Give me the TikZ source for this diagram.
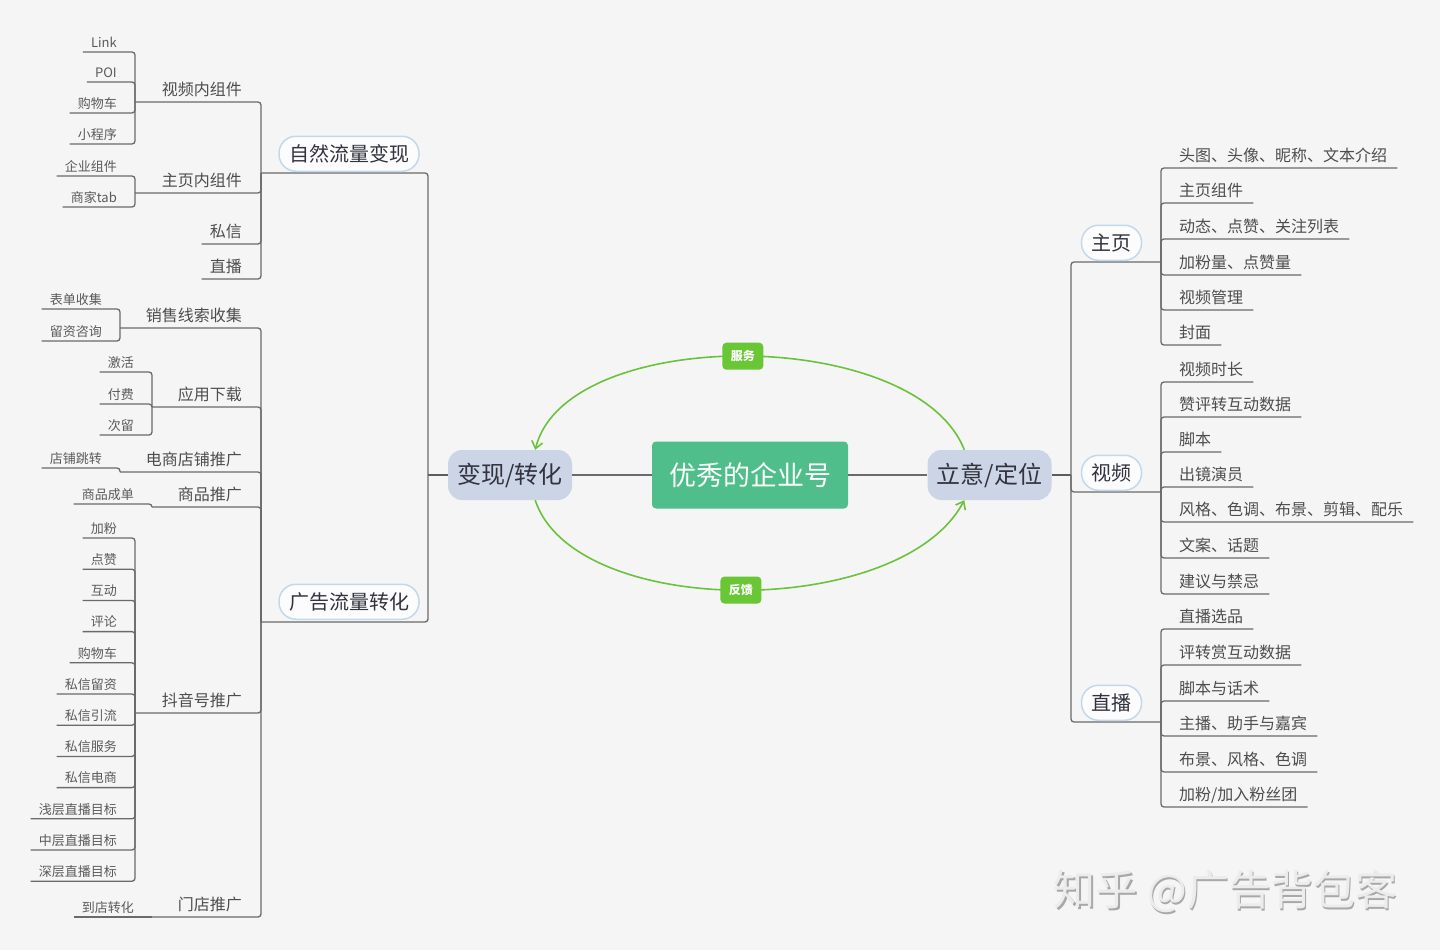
\documentclass[tikz,border=0pt]{standalone}
\usepackage{fontspec}
\setmainfont{Noto Sans CJK SC}
\usepackage{tikz}
\usetikzlibrary{arrows.meta,positioning}
\definecolor{bgcol}{HTML}{F5F5F5}
\definecolor{linegray}{HTML}{6A6A6A}
\definecolor{trunkgray}{HTML}{5C5C5C}
\definecolor{leafgray}{HTML}{5A5A5A}
\definecolor{subgray}{HTML}{4D4D4D}
\definecolor{textdark}{HTML}{33333F}
\definecolor{pillblue}{HTML}{C4D8EC}
\definecolor{pillfill}{HTML}{FCFCFC}
\definecolor{hubfill}{HTML}{CBD5E6}
\definecolor{coregreen}{HTML}{4FBE8B}
\definecolor{loopgreen}{HTML}{6CC23C}
\definecolor{taggreen}{HTML}{69C634}
\definecolor{wmlight}{HTML}{ECECEC}
\definecolor{wmshade}{HTML}{A8A8A8}
\newcommand\pxfont[1]{\fontsize{#1}{#1}\selectfont}

\begin{document}
\begin{tikzpicture}[x=1pt,y=-1pt,
  branch/.style={draw=linegray,line width=1.3pt,rounded corners=3pt},
  trunk/.style={draw=trunkgray,line width=1.6pt},
  hubline/.style={draw=linegray,line width=2.5pt},
  lleaf/.style={font=\pxfont{13},text=leafgray,anchor=south east,inner xsep=8pt,inner ysep=3pt,text height=.85em,text depth=.15em},
  lsub/.style={lleaf,font=\pxfont{16},text=subgray,inner ysep=5pt},
  rleaf/.style={font=\pxfont{16},text=subgray,anchor=south west,inner xsep=10pt,inner ysep=4.5pt,text height=.85em,text depth=.15em},
  pill/.style={draw=pillblue,line width=1.5pt,fill=pillfill,rounded corners=17pt,minimum height=35pt,inner xsep=10pt,font=\pxfont{20},text=textdark,anchor=south},
  hub/.style={fill=hubfill,rounded corners=14pt,minimum width=124pt,minimum height=50pt,font=\pxfont{24},text=textdark},
  core/.style={fill=coregreen,rounded corners=4pt,minimum width=196pt,minimum height=67pt,font=\pxfont{27},text=white},
  loop/.style={draw=loopgreen,line width=1.6pt,-{Straight Barb[length=7pt,width=11pt]}},
  tag/.style={fill=taggreen,rounded corners=4pt,minimum width=41pt,minimum height=27pt,inner sep=0pt,font=\pxfont{12}\bfseries,text=white},
  wm/.style={font=\pxfont{42}}
]
  \fill[bgcol] (0,0) rectangle (1440,950);

  % centre
  \node[core] (core) at (750,475) {优秀的企业号};
  \node[hub] (cv) at (510,475) {变现/转化};
  \node[hub] (ri) at (989.5,475) {立意/定位};
  \draw[hubline] (cv) -- (core);
  \draw[hubline] (core) -- (ri);
  \draw[loop] (ri.135) .. controls (915,325) and (566,325) .. (cv.45) node[tag,pos=0.5] (fw) {服务};
  \draw[loop] (cv.-45) .. controls (575,620) and (901,620) .. (ri.-135) node[tag,pos=0.5] (fk) {反馈};

  % left side
  \coordinate (cvj) at (428,475);
  \coordinate (nfj) at (261,173);
  \coordinate (ggj) at (261,622);
  \draw[trunk] (cv.west) -- (cvj);
  \draw[branch] (cvj) |- (nfj);
  \draw[branch] (cvj) |- (ggj);
  \node[pill] (nf) at (349,172) {自然流量变现};
  \node[pill] (gg) at (349,620) {广告流量转化};

  \coordinate (svj) at (135,102);
  \coordinate (szj) at (135,193);
  \node[lsub] (sv) at (250,102) {视频内组件};
  \node[lsub] (sz) at (250,193) {主页内组件};
  \node[lsub] (ss) at (250,244) {私信};
  \node[lsub] (sb) at (250,279) {直播};
  \draw[branch] (nfj) |- (svj);
  \draw[branch] (nfj) |- (szj);
  \draw[branch] (nfj) |- (ss.south west);
  \draw[branch] (nfj) |- (sb.south west);
  \foreach \nm/\y/\txt in {lk/52/Link,poi/82/POI,gw/113/购物车,xc/144/小程序}{
    \node[lleaf] (\nm) at (125,\y) {\txt};
    \draw[branch] (svj) |- (\nm.south west);
  }
  \foreach \nm/\y/\txt in {qy/176/企业组件,sj/207/商家tab}{
    \node[lleaf] (\nm) at (125,\y) {\txt};
    \draw[branch] (szj) |- (\nm.south west);
  }

  \coordinate (xsj) at (120,328);
  \coordinate (yyj) at (152,407);
  \coordinate (dsj) at (120,472);
  \coordinate (sptj) at (152,507);
  \coordinate (dyj) at (135,713);
  \coordinate (mdj) at (152,917);
  \node[lsub] (xs) at (250,328) {销售线索收集};
  \node[lsub] (yy) at (250,407) {应用下载};
  \node[lsub] (ds) at (250,472) {电商店铺推广};
  \node[lsub] (spt) at (250,507) {商品推广};
  \node[lsub] (dy) at (250,713) {抖音号推广};
  \node[lsub] (md) at (250,917) {门店推广};
  \foreach \j in {xsj,yyj,dsj,sptj,dyj,mdj}
    \draw[branch] (ggj) |- (\j);

  \foreach \nm/\y/\txt in {bd/309/表单收集,lz/341/留资咨询}{
    \node[lleaf] (\nm) at (110,\y) {\txt};
    \draw[branch] (xsj) |- (\nm.south west);
  }
  \foreach \nm/\y/\txt in {jh/372/激活,ff/404/付费,cl/435/次留}{
    \node[lleaf] (\nm) at (142,\y) {\txt};
    \draw[branch] (yyj) |- (\nm.south west);
  }
  \node[lleaf] (dp) at (110,468) {店铺跳转};
  \draw[branch] (dsj) |- (dp.south west);
  \node[lleaf] (cd) at (142,504) {商品成单};
  \draw[branch] (sptj) |- (cd.south west);
  \foreach \txt [count=\i] in {加粉,点赞,互动,评论,购物车,私信留资,私信引流,私信服务,私信电商,浅层直播目标,中层直播目标,深层直播目标}{
    \node[lleaf] (dy\i) at (125,{538+31.2*(\i-1)}) {\txt};
    \draw[branch] (dyj) |- (dy\i.south west);
  }
  \node[lleaf] (dd) at (142,917) {到店转化};
  \draw[branch] (mdj) -- (dd.south west);

  % right side
  \coordinate (rj) at (1071,475);
  \coordinate (zyj) at (1161,262);
  \coordinate (spj) at (1161,492);
  \coordinate (zbj) at (1161,722);
  \draw[trunk] (ri.east) -- (rj);
  \foreach \j in {zyj,spj,zbj}
    \draw[branch] (rj) |- (\j);
  \node[pill] (zy) at (1111.5,261) {主页};
  \node[pill] (sp) at (1111.5,491) {视频};
  \node[pill] (zb) at (1111.5,721) {直播};

  \foreach \nm/\y/\txt in {tt/168/头图、头像、昵称、文本介绍,zz/203/主页组件,dt/239/动态、点赞、关注列表,jf/275/加粉量、点赞量,sg/310/视频管理,fm/345/封面}{
    \node[rleaf] (\nm) at (1169,\y) {\txt};
    \draw[branch] (zyj) |- (\nm.south east);
  }
  \foreach \nm/\y/\txt in {sc/382/视频时长,zp/417/赞评转互动数据,jb/452/脚本,cj/487/出镜演员,fg/522/风格、色调、布景、剪辑、配乐,wa/558/文案、话题,jy/594/建议与禁忌}{
    \node[rleaf] (\nm) at (1169,\y) {\txt};
    \draw[branch] (spj) |- (\nm.south east);
  }
  \foreach \nm/\y/\txt in {xp/629/直播选品,pz/665/评转赏互动数据,hs/701/脚本与话术,zc/736/主播、助手与嘉宾,bj/772/布景、风格、色调,fs/807/{加粉/加入粉丝团}}{
    \node[rleaf] (\nm) at (1169,\y) {\txt};
    \draw[branch] (zbj) |- (\nm.south east);
  }

  % watermark
  \node[wm,text=wmshade] (wmb) at (1227,893) {知乎 @广告背包客};
  \node[wm,text=wmlight] (wmt) at (1225.5,891.5) {知乎 @广告背包客};
\end{tikzpicture}
\end{document}
